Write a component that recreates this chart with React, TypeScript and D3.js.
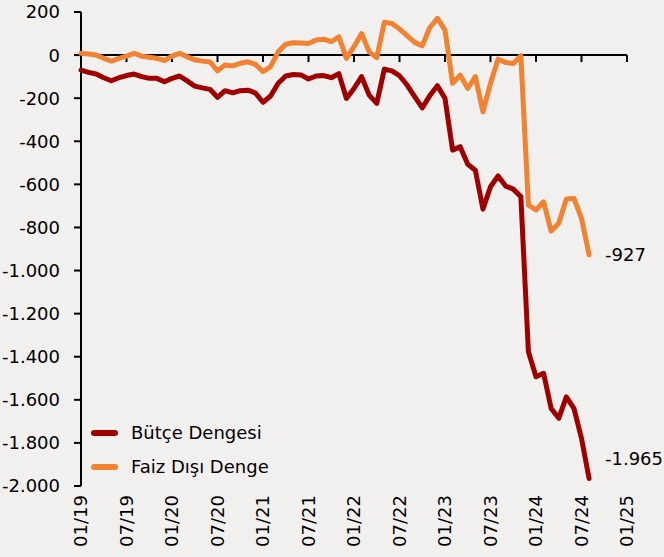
import React from "react";
import * as d3 from "d3";

const butceDengesi: number[] = [
  -70, -80, -88, -105, -119, -105, -95, -88, -100, -108, -108, -124,
  -108, -97, -120, -144, -152, -159, -196, -165, -175, -165, -163, -176,
  -219, -190, -131, -97, -90, -92, -111, -97, -95, -105, -86, -201,
  -155, -100, -186, -224, -65, -73, -96, -139, -193, -245, -188, -142,
  -201, -441, -425, -507, -534, -715, -611, -561, -608, -622, -657, -1377,
  -1493, -1477, -1640, -1686, -1586, -1640, -1779, -1965,
];

const faizDisiDenge: number[] = [
  8, 5, 0, -15, -28, -15, -5, 8, -5, -10, -15, -25,
  -5, 8, -8, -22, -28, -32, -73, -46, -50, -38, -31, -43,
  -77, -54, 15, 50, 57, 56, 54, 70, 74, 62, 85, -15,
  39, 100, 15, -12, 152, 147, 121, 90, 59, 43, 128, 170,
  116, -131, -93, -155, -100, -263, -131, -19, -34, -39, -3, -696,
  -719, -681, -817, -781, -668, -665, -758, -927,
];

const xTickLabels = ["01/19", "07/19", "01/20", "07/20", "01/21", "07/21", "01/22", "07/22", "01/23", "07/23", "01/24", "07/24", "01/25"];
const yTicks = [200, 0, -200, -400, -600, -800, -1000, -1200, -1400, -1600, -1800, -2000];

const seriesNames = ["Bütçe Dengesi", "Faiz Dışı Denge"];
const colors = ["#9f0000", "#f08232"];

const fmt = (v: number) => {
  const s = d3.format(",")(v).replace(/,/g, ".");
  return s.replace("−", "-");
};

export default function App() {
  const W = 664, H = 557;
  const x = d3.scaleLinear().domain([0, 72]).range([81, 627]);
  const y = d3.scaleLinear().domain([-2000, 200]).range([486, 12]);
  const line = d3.line<number>().x((_, i) => x(i)).y((d) => y(d)).curve(d3.curveLinear);
  const font = "'DejaVu Sans', Verdana, sans-serif";
  const fs = 18;
  const series = [butceDengesi, faizDisiDenge];
  const nRed = butceDengesi.length - 1;
  const nOr = faizDisiDenge.length - 1;
  return (
    <svg width={W} height={H} style={{ position: "absolute", left: 0, top: 0 }} fontFamily={font}>
      <rect x={0} y={0} width={W} height={H} fill="#f2f0ef" />
      {/* y axis */}
      <line x1={x(0)} x2={x(0)} y1={y(200)} y2={y(-2000)} stroke="#000" strokeWidth={2} />
      {yTicks.map((t) => (
        <g key={t}>
          <line x1={x(0) - 7} x2={x(0)} y1={y(t)} y2={y(t)} stroke="#000" strokeWidth={2} />
          <text x={60} y={y(t)} dy="0.36em" textAnchor="end" fontSize={fs} fill="#000">
            {fmt(t)}
          </text>
        </g>
      ))}
      {/* x axis at zero */}
      <line x1={x(0)} x2={x(72)} y1={y(0)} y2={y(0)} stroke="#000" strokeWidth={2} />
      {xTickLabels.map((lab, i) => (
        <g key={lab}>
          <line x1={x(i * 6)} x2={x(i * 6)} y1={y(0)} y2={y(0) + 7} stroke="#000" strokeWidth={2} />
          <text
            transform={`translate(${x(i * 6)},${y(-2000) + 9}) rotate(-90)`}
            textAnchor="end"
            dy="0.36em"
            fontSize={fs}
            fill="#000"
          >
            {lab}
          </text>
        </g>
      ))}
      {series.map((s, k) => (
        <path key={k} d={line(s) || ""} fill="none" stroke={colors[k]} strokeWidth={5} strokeLinejoin="round" strokeLinecap="round" />
      ))}
      {/* end labels */}
      <text x={605} y={y(faizDisiDenge[nOr])} dy="0.36em" fontSize={fs} fill="#000">{fmt(faizDisiDenge[nOr])}</text>
      <text x={605} y={y(butceDengesi[nRed]) - 20} dy="0.36em" fontSize={fs} fill="#000">{fmt(butceDengesi[nRed])}</text>
      {/* legend */}
      {seriesNames.map((n, k) => (
        <g key={n} transform={`translate(0,${433 + k * 34})`}>
          <line x1={94} x2={115} y1={0} y2={0} stroke={colors[k]} strokeWidth={6} strokeLinecap="round" />
          <text x={131} y={0} dy="0.36em" fontSize={fs} fill="#000">{n}</text>
        </g>
      ))}
    </svg>
  );
}
